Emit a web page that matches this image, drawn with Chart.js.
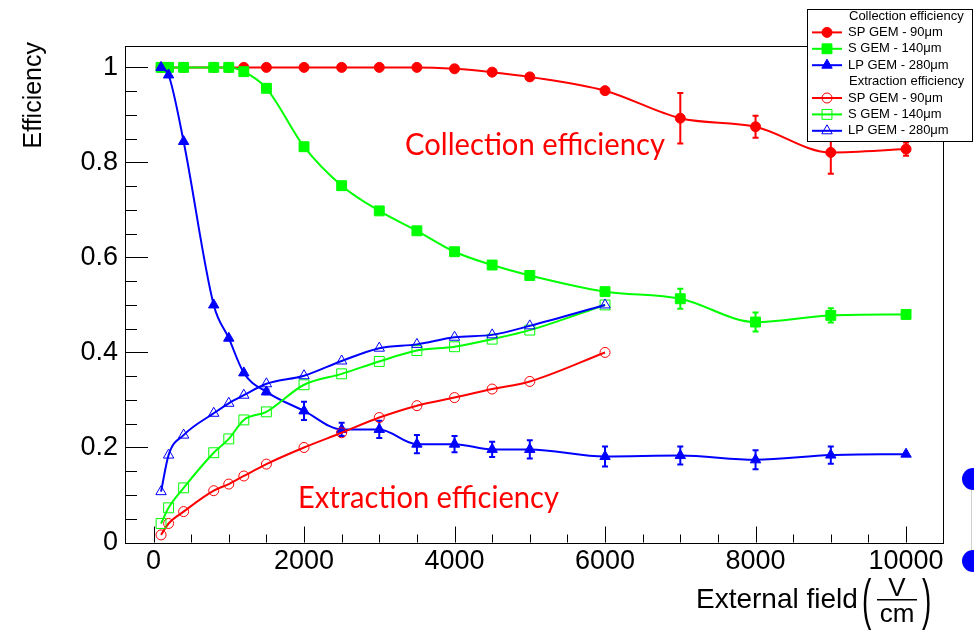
<!DOCTYPE html>
<html>
<head>
<meta charset="utf-8">
<title>GEM collection and extraction efficiency</title>
<script src="https://cdn.jsdelivr.net/npm/chart.js@4.4.1/dist/chart.umd.min.js"></script>
<style>
  body { margin: 0; background: #fff; }
  #wrap { position: relative; width: 974px; height: 635px; overflow: hidden; }
  .dot { position: absolute; width: 22px; height: 22px; border-radius: 50%; background: #0000ff; }
  .rule { position: absolute; left: 971px; top: 490px; width: 1px; height: 60px; background: #d0d0d0; }
</style>
</head>
<body>
<div id="wrap">
  <canvas id="myChart" width="974" height="635"></canvas>
  <div class="dot" style="left:962px; top:468px"></div>
  <div class="rule"></div>
  <div class="dot" style="left:962px; top:550px"></div>
</div>
<script>
// external field in V/cm
const fieldCollection = [100, 200, 400, 800, 1000, 1200, 1500, 2000, 2500, 3000, 3500, 4000, 4500, 5000, 6000, 7000, 8000, 9000, 10000];
const fieldExtraction = [100, 200, 400, 800, 1000, 1200, 1500, 2000, 2500, 3000, 3500, 4000, 4500, 5000, 6000];

// collection efficiency
const collSP = [1, 1, 1, 1, 1, 1, 1, 1, 1, 1, 1, 0.997, 0.99, 0.98, 0.951, 0.893, 0.875, 0.821, 0.828];
const collSPErr = [0, 0, 0, 0, 0, 0, 0, 0, 0, 0, 0, 0, 0, 0, 0, 0.053, 0.023, 0.045, 0.014];
const collS = [1, 1, 1, 1, 1, 0.991, 0.956, 0.833, 0.751, 0.698, 0.656, 0.612, 0.584, 0.562, 0.528, 0.513, 0.464, 0.478, 0.48];
const collSErr = [0, 0, 0, 0, 0, 0, 0, 0, 0, 0, 0, 0, 0, 0, 0, 0.021, 0.02, 0.015, 0.005];
const collLP = [1, 0.984, 0.844, 0.5, 0.43, 0.357, 0.317, 0.277, 0.238, 0.238, 0.207, 0.207, 0.196, 0.196, 0.181, 0.183, 0.174, 0.184, 0.186];
const collLPErr = [0, 0, 0, 0, 0, 0, 0.005, 0.019, 0.014, 0.018, 0.019, 0.017, 0.016, 0.019, 0.021, 0.019, 0.02, 0.018, 0];

// extraction efficiency
const extrSP = [0.016, 0.04, 0.065, 0.109, 0.123, 0.14, 0.165, 0.2, 0.231, 0.263, 0.288, 0.305, 0.323, 0.339, 0.4];
const extrS = [0.04, 0.073, 0.115, 0.189, 0.218, 0.258, 0.275, 0.332, 0.355, 0.381, 0.404, 0.412, 0.428, 0.447, 0.5];
const extrLP = [0.107, 0.184, 0.226, 0.272, 0.293, 0.31, 0.334, 0.351, 0.382, 0.409, 0.417, 0.432, 0.437, 0.456, 0.5];

const gemLabels = ['SP GEM - 90\u03bcm', 'S GEM - 140\u03bcm', 'LP GEM - 280\u03bcm'];
const groupLabels = ['Collection efficiency', 'Extraction efficiency'];
const xTicks = [0, 2000, 4000, 6000, 8000, 10000];
const yTicks = [0, 0.2, 0.4, 0.6, 0.8, 1];

const RED = '#ff0000', GREEN = '#00ff00', BLUE = '#0000ff';
const ROOT_FONT = "'Liberation Sans', Arial, Helvetica, sans-serif";

function series(label, xs, ys, errs, color, style, filled) {
    const radius = style === 'rect' ? 7 : (style === 'triangle' ? 6 : 5);
    return {
        label: label,
        data: xs.map((x, i) => ({x: x, y: ys[i]})),
        errors: errs,
        borderColor: color,
        backgroundColor: color,
        borderWidth: 2,
        pointStyle: style,
        pointRadius: radius,
        pointHoverRadius: radius,
        pointBorderColor: color,
        pointBackgroundColor: filled ? color : 'rgba(0,0,0,0)',
        pointBorderWidth: 1,
        cubicInterpolationMode: 'monotone',
        fill: false
    };
}

const datasets = [
    series(gemLabels[0], fieldCollection, collSP, collSPErr, RED, 'circle', true),
    series(gemLabels[1], fieldCollection, collS, collSErr, GREEN, 'rect', true),
    series(gemLabels[2], fieldCollection, collLP, collLPErr, BLUE, 'triangle', true),
    series(gemLabels[0], fieldExtraction, extrSP, null, RED, 'circle', false),
    series(gemLabels[1], fieldExtraction, extrS, null, GREEN, 'rect', false),
    series(gemLabels[2], fieldExtraction, extrLP, null, BLUE, 'triangle', false)
];
// later series are painted on top
datasets.forEach((ds, i) => { ds.order = datasets.length - i; });

const errorBars = {
    id: 'errorBars',
    beforeDatasetsDraw(chart) {
        const ctx = chart.ctx, xs = chart.scales.x, ys = chart.scales.y;
        chart.data.datasets.forEach(ds => {
            if (!ds.errors) return;
            ctx.save();
            ctx.strokeStyle = ds.borderColor;
            ctx.lineWidth = 2;
            ds.data.forEach((p, i) => {
                const e = ds.errors[i];
                if (!e) return;
                const px = xs.getPixelForValue(p.x);
                const top = ys.getPixelForValue(p.y + e);
                const bot = ys.getPixelForValue(p.y - e);
                ctx.beginPath();
                ctx.moveTo(px, top); ctx.lineTo(px, bot);
                ctx.moveTo(px - 3, top); ctx.lineTo(px + 3, top);
                ctx.moveTo(px - 3, bot); ctx.lineTo(px + 3, bot);
                ctx.stroke();
            });
            ctx.restore();
        });
    }
};

function marker(ctx, ds, x, y) {
    ctx.fillStyle = ds.pointBackgroundColor;
    ctx.strokeStyle = ds.pointBorderColor;
    ctx.lineWidth = ds.pointBorderWidth;
    Chart.helpers.drawPoint(ctx, {pointStyle: ds.pointStyle, radius: ds.pointRadius, rotation: 0, borderWidth: ds.pointBorderWidth}, x, y);
}

const frameAndLegend = {
    id: 'frameAndLegend',
    afterDatasetsDraw(chart) {
        const ctx = chart.ctx, xs = chart.scales.x, ys = chart.scales.y;
        const a = chart.chartArea;
        ctx.save();

        // frame
        ctx.strokeStyle = '#000';
        ctx.lineWidth = 1;
        ctx.strokeRect(Math.round(a.left) + 0.5, Math.round(a.top) + 0.5, Math.round(a.right - a.left), Math.round(a.bottom - a.top));

        // inward ticks on the left and bottom axes
        ctx.beginPath();
        for (let v = 0; v <= 1.0001; v += 0.05) {
            const py = Math.round(ys.getPixelForValue(v)) + 0.5;
            const major = Math.abs(v / 0.2 - Math.round(v / 0.2)) < 1e-6;
            ctx.moveTo(a.left, py); ctx.lineTo(a.left + (major ? 23 : 12), py);
        }
        for (let v = 0; v <= 10000; v += 500) {
            const px = Math.round(xs.getPixelForValue(v)) + 0.5;
            ctx.moveTo(px, a.bottom); ctx.lineTo(px, a.bottom - (v % 2000 === 0 ? 16 : 8));
        }
        ctx.stroke();

        // in-plot annotations
        ctx.fillStyle = RED;
        ctx.font = "30px Lato, 'Open Sans', sans-serif";
        ctx.textAlign = 'left';
        ctx.textBaseline = 'alphabetic';
        ctx.fillText(groupLabels[0], 405, 155, 260);
        ctx.fillText(groupLabels[1], 298, 508, 261);

        // axis titles
        ctx.fillStyle = '#000';
        ctx.font = '25px ' + ROOT_FONT;
        ctx.save();
        ctx.translate(41, 42);
        ctx.rotate(-Math.PI / 2);
        ctx.textAlign = 'right';
        ctx.fillText('Efficiency', 0, 0);
        ctx.restore();

        ctx.font = '28px ' + ROOT_FONT;
        ctx.textAlign = 'left';
        ctx.fillText('External field', 696, 608);
        ctx.save();
        ctx.translate(0, 600);
        ctx.scale(1, 2);
        ctx.fillText('(', 862, 9);
        ctx.fillText(')', 922, 9);
        ctx.restore();
        ctx.font = '26px ' + ROOT_FONT;
        ctx.textAlign = 'center';
        ctx.fillText('V', 897, 596);
        ctx.fillText('cm', 897, 622);
        ctx.fillRect(877, 599, 40, 1.5);

        // legend box
        const lx = 807.5, ly = 9.5, lw = 165, lh = 132;
        ctx.fillStyle = '#fff';
        ctx.fillRect(lx, ly, lw, lh);
        ctx.strokeStyle = '#000';
        ctx.lineWidth = 1;
        ctx.strokeRect(lx, ly, lw, lh);
        ctx.font = '13px ' + ROOT_FONT;
        ctx.textAlign = 'left';
        ctx.textBaseline = 'middle';
        const rows = [groupLabels[0], 0, 1, 2, groupLabels[1], 3, 4, 5];
        rows.forEach((r, i) => {
            const cy = 16 + i * 16.4;
            ctx.fillStyle = '#000';
            if (typeof r === 'string') {
                ctx.fillText(r, 849, cy);
                return;
            }
            const ds = chart.data.datasets[r];
            ctx.strokeStyle = ds.borderColor;
            ctx.lineWidth = 2;
            ctx.beginPath();
            ctx.moveTo(812, cy); ctx.lineTo(842, cy);
            ctx.stroke();
            marker(ctx, ds, 827, cy);
            ctx.fillStyle = '#000';
            ctx.fillText(ds.label, 848, cy);
        });

        ctx.restore();
    }
};

const ctx = document.getElementById('myChart').getContext('2d');
const myChart = new Chart(ctx, {
    type: 'line',
    data: { datasets: datasets },
    options: {
        responsive: false,
        animation: false,
        devicePixelRatio: 1,
        layout: { padding: { top: 46, right: 31, left: 0, bottom: 0 } },
        plugins: { legend: { display: false }, tooltip: { enabled: false } },
        scales: {
            x: {
                type: 'linear',
                min: -379,
                max: 10491,
                afterBuildTicks: s => { s.ticks = xTicks.map(v => ({value: v})); },
                afterFit: s => { s.height = 92.5; },
                grid: { display: false, drawTicks: false },
                border: { display: false },
                ticks: { color: '#000', padding: 3, maxRotation: 0, autoSkip: false, font: { family: ROOT_FONT, size: 27 }, callback: v => String(v) }
            },
            y: {
                type: 'linear',
                min: 0,
                max: 1.045,
                afterBuildTicks: s => { s.ticks = yTicks.map(v => ({value: v})); },
                afterFit: s => { s.width = 125; },
                grid: { display: false, drawTicks: false },
                border: { display: false },
                ticks: { color: '#000', padding: 7, font: { family: ROOT_FONT, size: 27 }, callback: v => String(v) }
            }
        }
    },
    plugins: [errorBars, frameAndLegend]
});
</script>
</body>
</html>
